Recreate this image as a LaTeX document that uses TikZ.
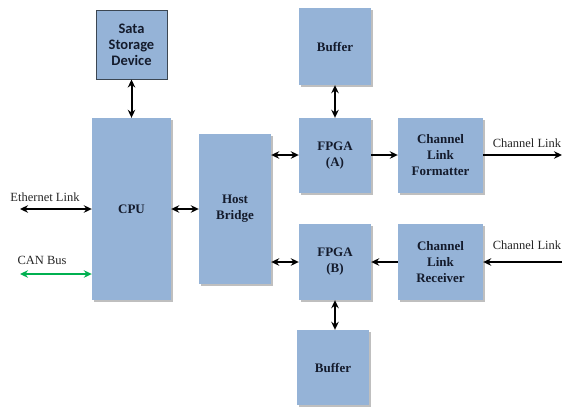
\documentclass[tikz,border=0pt]{standalone}
\usepackage{fontspec}
\setmainfont{Liberation Serif}
\newfontfamily\timesfont{Liberation Serif}
\newfontfamily\calibfont{Carlito}
\usetikzlibrary{arrows.meta,shadows}
\definecolor{boxblue}{HTML}{95B3D7}
\definecolor{boxtext}{HTML}{141B2C}
\definecolor{sataline}{HTML}{3B4652}
\definecolor{cangreen}{HTML}{00B050}
\begin{document}
\begin{tikzpicture}[x=1pt,y=-1pt,
  box/.style={fill=boxblue, draw=none, inner sep=0pt, align=center,
    font=\timesfont\fontsize{13}{16}\selectfont\bfseries, text=boxtext,
    drop shadow={shadow xshift=2pt, shadow yshift=-2pt, fill=black!50, opacity=0.5}},
  satabox/.style={fill=boxblue, draw=sataline, line width=1pt, inner sep=0pt, align=center,
    font=\calibfont\fontsize{14.5}{16}\selectfont\bfseries, text=boxtext},
  link/.style={line width=2pt, black, {Stealth[length=8pt,width=7.5pt]}-{Stealth[length=8pt,width=7.5pt]}},
  onearrow/.style={line width=2pt, black, -{Stealth[length=8pt,width=7.5pt]}},
  lbl/.style={font=\timesfont\fontsize{12.5}{14}\selectfont, text=black!85, inner sep=0pt}
]
\useasboundingbox (0,0) rectangle (563,408);

% boxes
\node[satabox, minimum width=71pt, minimum height=69pt] (sata) at (131.5,44.5) {Sata\\Storage\\Device};
\node[box, minimum width=79pt, minimum height=182pt] (cpu) at (131.5,209) {CPU};
\node[box, minimum width=72pt, minimum height=150pt] (host) at (235,209) {Host\\Bridge};
\node[box, minimum width=72pt, minimum height=77pt] (bufa) at (335,46.5) {Buffer};
\node[box, minimum width=72pt, minimum height=75pt] (fpgaa) at (335,155.5) {FPGA\\(A)};
\node[box, minimum width=85pt, minimum height=75pt] (fmt) at (440.5,155.5) {Channel\\Link\\Formatter};
\node[box, minimum width=72pt, minimum height=76pt] (fpgab) at (335,262) {FPGA\\(B)};
\node[box, minimum width=85pt, minimum height=76pt] (rcv) at (440.5,262) {Channel\\Link\\Receiver};
\node[box, minimum width=72pt, minimum height=75pt] (bufb) at (333,367.5) {Buffer};

% free ends
\coordinate (eth) at (20,209);
\coordinate (can) at (20,274);
\coordinate (outa) at (562,155);
\coordinate (inb) at (562,262);

% labels
\node[lbl] (ethl) at (45,197) {Ethernet Link};
\node[lbl] (canl) at (42,260) {CAN Bus};
\node[lbl] (outl) at (527,143) {Channel Link};
\node[lbl] (inl) at (527,245) {Channel Link};

% connectors
\draw[link] (sata.south) -- (cpu.north);
\draw[link] (eth) -- (cpu.west |- eth);
\draw[link, cangreen] (can) -- (cpu.west |- can);
\draw[link] (cpu.east) -- (host.west);
\draw[link] (host.east |- outa) -- (fpgaa.west |- outa);
\draw[link] (host.east |- fpgab) -- (fpgab.west);
\draw[link] (bufa.south) -- (fpgaa.north);
\draw[link] (fpgab.south) -- (fpgab.south |- bufb.north);
\draw[onearrow] (fpgaa.east |- outa) -- (fmt.west |- outa);
\draw[onearrow] (fmt.east |- outa) -- (outa);
\draw[onearrow] (inb) -- (rcv.east);
\draw[onearrow] (rcv.west) -- (fpgab.east);
\end{tikzpicture}
\end{document}
